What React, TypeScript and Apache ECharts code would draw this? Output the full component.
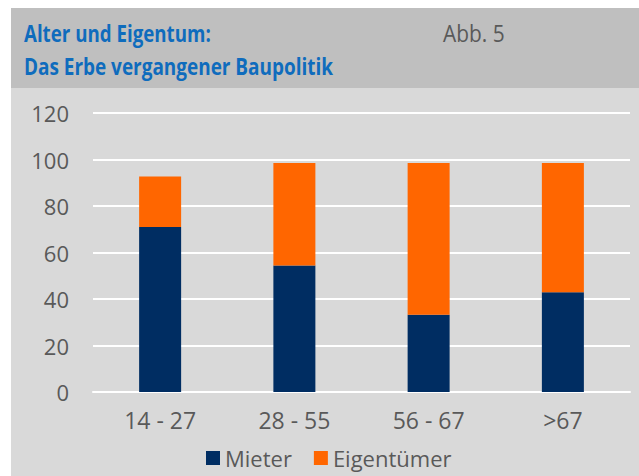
import React, { useEffect, useRef } from "react";
import * as echarts from "echarts";

const categories = ["14 - 27", "28 - 55", "56 - 67", ">67"];
const mieter = [71, 54.4, 33.2, 42.9];
const eigentuemer = [21.7, 44.1, 65.3, 55.6];
const seriesNames = ["Mieter", "Eigentümer"];
const titleLine1 = "Alter und Eigentum:";
const titleLine2 = "Das Erbe vergangener Baupolitik";
const figLabel = "Abb. 5";

const FONT = "'Open Sans', 'Noto Sans', sans-serif";

export default function App() {
  const ref = useRef<HTMLDivElement>(null);
  useEffect(() => {
    if (!ref.current) return;
    const chart = echarts.init(ref.current, undefined, { renderer: "svg" });
    chart.setOption({
      animation: false,
      backgroundColor: "#ffffff",
      graphic: [
        { type: "rect", z: -10, shape: { x: 11, y: 8, width: 628, height: 80 }, style: { fill: "#bfbfbf" } },
        { type: "rect", z: -10, shape: { x: 11, y: 88, width: 628, height: 388 }, style: { fill: "#d9d9d9" } },
        {
          type: "text", x: 24, y: 21, scaleX: 0.78, originX: 0,
          style: { text: titleLine1, fill: "#0f6cbd", font: `bold 24px ${FONT}` },
        },
        {
          type: "text", x: 24, y: 54, scaleX: 0.79, originX: 0,
          style: { text: titleLine2, fill: "#0f6cbd", font: `bold 24px ${FONT}` },
        },
        {
          type: "text", x: 443, y: 21, scaleX: 0.87, originX: 0,
          style: { text: figLabel, fill: "#595959", font: `24px ${FONT}` },
        },
      ],
      grid: { left: 93, right: 9, top: 113, bottom: 84, containLabel: false },
      legend: {
        data: seriesNames,
        bottom: 2,
        left: 201,
        itemWidth: 14,
        itemHeight: 14,
        itemGap: 22,
        icon: "rect",
        textStyle: { color: "#595959", fontSize: 22, fontFamily: FONT },
      },
      xAxis: {
        type: "category",
        data: categories,
        axisLine: { show: true, lineStyle: { color: "#ffffff", width: 2 } },
        axisTick: { show: false },
        axisLabel: { color: "#595959", fontSize: 23, fontFamily: FONT, margin: 16 },
      },
      yAxis: {
        type: "value",
        min: 0,
        max: 120,
        interval: 20,
        axisLine: { show: false },
        axisTick: { show: false },
        axisLabel: { color: "#595959", fontSize: 22, fontFamily: FONT, margin: 24 },
        splitLine: { lineStyle: { color: "#ffffff", width: 2 } },
      },
      series: [
        {
          name: seriesNames[0],
          type: "bar",
          stack: "a",
          data: mieter,
          barWidth: 42,
          itemStyle: { color: "#002d62" },
        },
        {
          name: seriesNames[1],
          type: "bar",
          stack: "a",
          data: eigentuemer,
          barWidth: 42,
          itemStyle: { color: "#ff6600" },
        },
      ],
    });
    return () => chart.dispose();
  }, []);
  return (
    <div
      ref={ref}
      style={{ position: "fixed", left: 0, top: 0, width: 639, height: 476 }}
    />
  );
}
